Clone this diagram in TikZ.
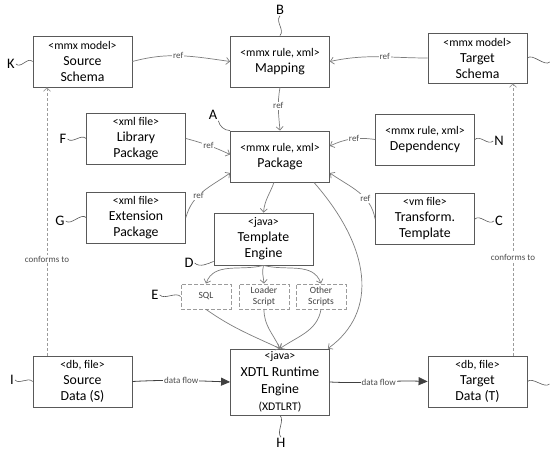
\documentclass[tikz,border=0pt]{standalone}
\usepackage{fontspec}
\setmainfont{Carlito}
\usepackage{tikz}
\usetikzlibrary{arrows.meta}
\definecolor{linegray}{RGB}{89,89,89}
\definecolor{arrowgray}{RGB}{125,125,125}
\definecolor{dashgray}{RGB}{155,155,155}
\newcommand{\stereo}[1]{{\fontsize{11.7}{13}\selectfont #1}}
\tikzset{
  box/.style={draw=linegray, line width=0.8pt, fill=white, minimum width=99pt, minimum height=51pt,
    align=center, inner sep=1pt, font=\fontsize{13.8}{16}\selectfont},
  scriptbox/.style={draw=dashgray, dash pattern=on 4pt off 2pt, line width=0.8pt, minimum width=50pt,
    minimum height=25pt, align=center, inner sep=1pt, font=\fontsize{9.5}{11}\selectfont, text=black!75},
  lbl/.style={inner sep=1pt, font=\fontsize{14.5}{14.5}\selectfont},
  squig/.style={draw=linegray, line width=0.6pt},
  refline/.style={draw=arrowgray, line width=0.7pt, -{Straight Barb[length=3.5pt,width=7pt]}},
  flow/.style={draw=black!75, line width=0.8pt, -{Triangle[length=9pt,width=8pt]}},
  conf/.style={draw=dashgray, dash pattern=on 3pt off 2pt, line width=0.7pt, -{Straight Barb[length=3.5pt,width=7pt]}},
  edgetag/.style={fill=white, inner sep=1pt, font=\fontsize{9}{9}\selectfont, text=black!70},
}

\begin{document}
\begin{tikzpicture}[x=1pt,y=1pt]
    \useasboundingbox (0,0) rectangle (550,452);
    % boxes
    \node[box] (src) at (82.5,390.5) {\stereo{<mmx model>}\\Source\\Schema};
    \node[box] (map) at (280,390.5) {\stereo{<mmx rule, xml>}\\Mapping};
    \node[box, minimum height=50pt] (tgt) at (477.5,394) {\stereo{<mmx model>}\\Target\\Schema};
    \node[box] (lib) at (136,313.5) {\stereo{<xml file>}\\Library\\Package};
    \node[box] (pkg) at (280,295.5) {\stereo{<mmx rule, xml>}\\Package};
    \node[box] (dep) at (425,312.5) {\stereo{<mmx rule, xml>}\\Dependency};
    \node[box] (ext) at (136,234.5) {\stereo{<xml file>}\\Extension\\Package};
    \node[box] (trf) at (425,233) {\stereo{<vm file>}\\Transform.\\Template};
    \node[box, minimum height=52pt] (eng) at (263.5,213) {\stereo{<java>}\\Template\\Engine};
    \node[scriptbox] (sql) at (206,155.5) {SQL};
    \node[scriptbox] (ldr) at (264,155.5) {Loader\\Script};
    \node[scriptbox] (oth) at (321,155.5) {Other\\Scripts};
    \node[box, minimum height=66pt, font=\fontsize{13.8}{17}\selectfont] (rt) at (280,70)
        {\stereo{<java>}\\XDTL Runtime\\Engine\\\stereo{(XDTLRT)}};
    \node[box] (sd) at (82.5,70.5) {\stereo{<db, file>}\\Source\\Data (S)};
    \node[box] (td) at (477.5,70.5) {\stereo{<db, file>}\\Target\\Data (T)};

    % ref links
    \draw[refline] (src.east) to[out=15,in=172] node[edgetag, pos=0.47] {ref} (map.west);
    \draw[refline] (tgt.west) to[out=180,in=12] node[edgetag, pos=0.43] {ref} (map.east);
    \draw[refline] (map.south) to[out=-100,in=95] node[edgetag, pos=0.42] {ref} (pkg.north);
    \draw[refline] (lib.east) to[out=-15,in=155] node[edgetag, pos=0.5] {ref} ([yshift=2pt]pkg.west);
    \draw[refline] (ext.east) to[out=75,in=-145] node[edgetag, pos=0.4] {ref} ([yshift=-16.5pt]pkg.west);
    \draw[refline] (dep.west) to[out=172,in=25] node[edgetag, pos=0.45] {ref} ([yshift=10.5pt]pkg.east);
    \draw[refline] (trf.west) to[out=100,in=-35] node[edgetag, pos=0.35] {ref} ([yshift=-16.5pt]pkg.east);

    % package to engines
    \draw[refline] ([xshift=-6pt]pkg.south) to[out=-110,in=85] (eng.north);
    \draw[refline] ([xshift=-16pt]pkg.south east) .. controls +(57,-65) and +(51,37) .. ([xshift=-2pt]rt.north east);

    % engine to scripts to runtime
    \draw[refline] (eng.south) to[out=-165,in=70] (sql.north);
    \draw[refline] (eng.south) to[out=-105,in=95] (ldr.north);
    \draw[refline] (eng.south) to[out=-15,in=110] (oth.north);
    \draw[refline] (sql.south) to[out=-35,in=155] (rt.north);
    \draw[refline] (ldr.south) to[out=-90,in=115] (rt.north);
    \draw[refline] (oth.south) to[out=-100,in=35] (rt.north);

    % data flow
    \draw[flow] (sd.east) to[out=3,in=178] node[edgetag] {data flow} (rt.west);
    \draw[flow] (rt.east) to[out=-3,in=178] node[edgetag] {data flow} (td.west);

    % conforms to
    \draw[conf] ([xshift=-35.5pt]sd.north) -- node[edgetag, pos=0.36] {conforms to} ([xshift=-35.5pt]src.south);
    \draw[conf] ([xshift=35.5pt]td.north) -- node[edgetag, pos=0.36] {conforms to} ([xshift=35.5pt]tgt.south);

    % letter labels
    \node[lbl] (K) at (11,388) {K};
    \draw[squig] (K.east) .. controls +(5,-5) and +(-5,5) .. (src.west);
    \node[lbl] (B) at (280,442) {B};
    \draw[squig] (B.south) .. controls +(-5,-6) and +(5,6) .. (map.north);
    \node[lbl] (L) at (554,390) {L};
    \draw[squig] (tgt.east) .. controls +(5,5) and +(-5,-5) .. (L.west);
    \node[lbl] (A) at (213,337) {A};
    \draw[squig] (A.south east) .. controls +(1,-5) and +(-6,0) .. (pkg.north west);
    \node[lbl] (F) at (63,313) {F};
    \draw[squig] (F.east) .. controls +(5,-5) and +(-5,5) .. (lib.west);
    \node[lbl] (N) at (499,311) {N};
    \draw[squig] (dep.east) .. controls +(5,5) and +(-5,-5) .. (N.west);
    \node[lbl] (G) at (60,231) {G};
    \draw[squig] (G.east) .. controls +(5,-5) and +(-5,5) .. (ext.west);
    \node[lbl] (C) at (499,231) {C};
    \draw[squig] (trf.east) .. controls +(5,5) and +(-5,-5) .. (C.west);
    \node[lbl] (D) at (189,189) {D};
    \draw[squig] (D.east) .. controls +(5,-5) and +(-5,-2) .. ([yshift=4pt]eng.south west);
    \node[lbl] (E) at (155,157) {E};
    \draw[squig] (E.east) .. controls +(5,-5) and +(-5,5) .. (sql.west);
    \node[lbl] (I) at (12,72) {I};
    \draw[squig] (I.east) .. controls +(5,-5) and +(-5,5) .. (sd.west);
    \node[lbl] (H) at (281,9) {H};
    \draw[squig] (rt.south) .. controls +(5,-5) and +(-5,5) .. (H.north);
    \node[lbl] (J) at (553,68) {J};
    \draw[squig] (td.east) .. controls +(5,5) and +(-5,-5) .. (J.west);
\end{tikzpicture}
\end{document}
